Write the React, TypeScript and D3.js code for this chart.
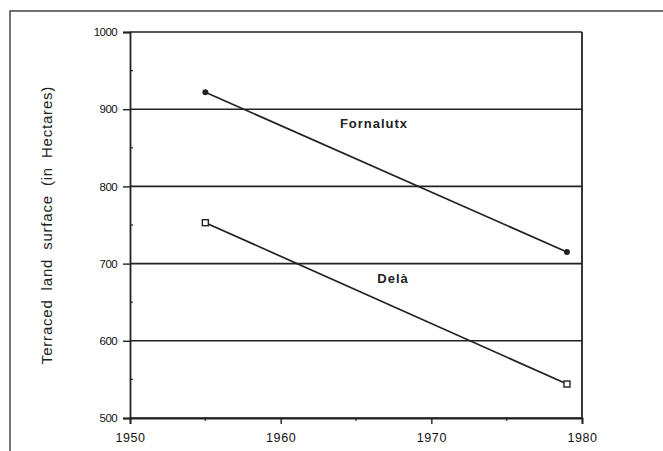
import React, { useEffect, useRef } from 'react';
import * as d3 from 'd3';

const years = [1955, 1979];
const fornalutx = [922, 715];
const dela = [753, 544];
const yTicks = [500, 600, 700, 800, 900, 1000];
const xTicks = [1950, 1960, 1970, 1980];

const App = () => {
  const svgRef = useRef<SVGSVGElement>(null);

  useEffect(() => {
    if (!svgRef.current) return;
    const svg = d3.select(svgRef.current);
    svg.selectAll('*').remove();

    const left = 130, right = 582, top = 32, bottom = 418;
    const x = d3.scaleLinear().domain([1950, 1980]).range([left, right]);
    const y = d3.scaleLinear().domain([500, 1000]).range([bottom, top]);
    const ink = '#222';
    const font = 'Liberation Sans, Arial, sans-serif';

    // outer frame
    svg.append('rect')
      .attr('x', 10).attr('y', 11).attr('width', 700).attr('height', 500)
      .attr('fill', 'none').attr('stroke', '#444').attr('stroke-width', 1.5);

    // gridlines
    svg.selectAll('line.grid')
      .data(yTicks)
      .enter()
      .append('line')
      .attr('x1', left).attr('x2', right)
      .attr('y1', d => y(d)).attr('y2', d => y(d))
      .attr('stroke', ink).attr('stroke-width', 1.6);

    // right border
    svg.append('line')
      .attr('x1', right).attr('x2', right).attr('y1', top).attr('y2', bottom)
      .attr('stroke', ink).attr('stroke-width', 1.8);

    // y axis
    const yAxis = svg.append('g')
      .attr('transform', `translate(${left},0)`)
      .call(d3.axisLeft(y).tickValues(yTicks).tickFormat(d3.format('d')).tickSize(7).tickPadding(6));
    yAxis.select('.domain').attr('stroke', ink).attr('stroke-width', 1.8);
    yAxis.selectAll('line').attr('stroke', ink).attr('stroke-width', 1.4);
    yAxis.selectAll('text')
      .attr('font-family', font).attr('font-size', 11.5).attr('fill', '#111')
      .attr('letter-spacing', -0.6);

    // minor y ticks
    svg.selectAll('line.ymin')
      .data(d3.range(550, 1000, 100))
      .enter()
      .append('line')
      .attr('x1', left).attr('x2', left + 3)
      .attr('y1', d => y(d)).attr('y2', d => y(d))
      .attr('stroke', ink).attr('stroke-width', 1.2);

    // x axis
    const xAxis = svg.append('g')
      .attr('transform', `translate(0,${bottom})`)
      .call(d3.axisBottom(x).tickValues(xTicks).tickFormat(d3.format('d')).tickSize(6).tickPadding(9));
    xAxis.select('.domain').attr('stroke', ink).attr('stroke-width', 1.8);
    xAxis.selectAll('line').attr('stroke', ink).attr('stroke-width', 1.4);
    xAxis.selectAll('text')
      .attr('font-family', font).attr('font-size', 12.5).attr('fill', '#111')
      .attr('letter-spacing', 0.6);

    // minor x ticks
    svg.selectAll('line.xmin')
      .data(d3.range(1955, 1980, 10))
      .enter()
      .append('line')
      .attr('x1', d => x(d)).attr('x2', d => x(d))
      .attr('y1', bottom).attr('y2', bottom + 3)
      .attr('stroke', ink).attr('stroke-width', 1.2);

    const line = d3.line<number>()
      .x((_, i) => x(years[i]))
      .y(d => y(d));

    // Fornalutx
    svg.append('path')
      .attr('d', line(fornalutx))
      .attr('fill', 'none').attr('stroke', ink).attr('stroke-width', 1.7);
    svg.selectAll('circle.f')
      .data(fornalutx)
      .enter()
      .append('circle')
      .attr('cx', (_, i) => x(years[i])).attr('cy', d => y(d))
      .attr('r', 3).attr('fill', ink);

    // Delà
    svg.append('path')
      .attr('d', line(dela))
      .attr('fill', 'none').attr('stroke', ink).attr('stroke-width', 1.7);
    svg.selectAll('rect.d')
      .data(dela)
      .enter()
      .append('rect')
      .attr('x', (_, i) => x(years[i]) - 3).attr('y', d => y(d) - 3)
      .attr('width', 6).attr('height', 6)
      .attr('fill', 'white').attr('stroke', ink).attr('stroke-width', 1.4);

    // series labels
    svg.append('text')
      .attr('x', 374).attr('y', 128).attr('text-anchor', 'middle')
      .attr('font-family', font).attr('font-size', 13).attr('font-weight', 'bold')
      .attr('letter-spacing', 1).attr('fill', '#222')
      .text('Fornalutx');
    svg.append('text')
      .attr('x', 393).attr('y', 283).attr('text-anchor', 'middle')
      .attr('font-family', font).attr('font-size', 13).attr('font-weight', 'bold')
      .attr('letter-spacing', 1).attr('fill', '#222')
      .text('Delà');

    // y title
    svg.append('text')
      .attr('transform', `translate(52,${(top + bottom) / 2}) rotate(-90)`)
      .attr('text-anchor', 'middle')
      .attr('font-family', font).attr('font-size', 15).attr('fill', '#222')
      .attr('letter-spacing', 0.8).attr('word-spacing', 4)
      .text('Terraced land surface (in Hectares)');
  }, []);

  return (
    <svg
      ref={svgRef}
      width={663}
      height={451}
      style={{ position: 'absolute', left: 0, top: 0, background: 'white' }}
    />
  );
};

export default App;
